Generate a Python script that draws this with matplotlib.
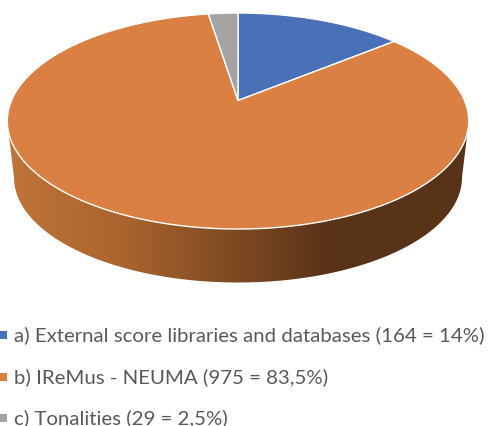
#!/usr/bin/env python3
"""Perspective 3D pie of score sources, with a legend below."""

import matplotlib

matplotlib.use("Agg")
import matplotlib.pyplot as plt
import numpy as np
from matplotlib.colors import LinearSegmentedColormap
from matplotlib.patches import Polygon

VALUES = [164, 975, 29]
LABELS = [
    "a) External score libraries and databases (164 = 14%)",
    "b) IReMus - NEUMA (975 = 83,5%)",
    "c) Tonalities (29 = 2,5%)",
]
COLORS = ["#4A71B8", "#DA8043", "#A3A3A3"]

# Pie placement in pixels, fitted from the reference.
APEX_X, APEX_Y = 238.0, 100.5
SCALE_X, SCALE_Y, PERSP = 226.5, 104.1, 0.19


def project(theta):
    """Map a clockwise-from-top pie angle to image pixels with perspective."""
    x, y = np.sin(theta), np.cos(theta)
    w = 1 + PERSP * y
    return APEX_X + SCALE_X * x / w, APEX_Y - SCALE_Y * y / w


fig = plt.figure(figsize=(4.88, 4.26), dpi=100)
ax = fig.add_axes([0, 0, 1, 1])

# Side wall: front half of the top rim joined to a lower, slightly narrower rim.
t = np.linspace(0, 2 * np.pi, 721)
rim_x, rim_y = project(t)
upper = np.column_stack([rim_x, rim_y])
upper = upper[upper[:, 1] > 122]
upper = upper[np.argsort(-upper[:, 0])]

low_t = np.linspace(0, np.pi, 361)
lower = np.column_stack([APEX_X + 224 * np.cos(low_t + np.pi), 177.5 + 105 * np.sin(low_t)])

wall_patch = Polygon(np.vstack([upper, lower]), closed=True, facecolor="none", edgecolor="none")
ax.add_patch(wall_patch)
cmap = LinearSegmentedColormap.from_list(
    "wall",
    [(0, "#C07539"), (0.25, "#A9642F"), (0.70, "#5A3318"), (1, "#583318")],
)
grad = ax.imshow(
    np.linspace(0, 1, 256)[None, :],
    extent=(8, 468, 290, 110),
    cmap=cmap,
    aspect="auto",
    zorder=1,
)
grad.set_clip_path(wall_patch)

# Top surface, one wedge per value.
edges = np.cumsum([0] + VALUES) / sum(VALUES) * 2 * np.pi
for start, end, color in zip(edges[:-1], edges[1:], COLORS):
    arc = np.linspace(start, end, 240)
    xs, ys = project(arc)
    pts = np.vstack([[APEX_X, APEX_Y], np.column_stack([xs, ys])])
    ax.add_patch(
        Polygon(pts, closed=True, facecolor=color, edgecolor="white", linewidth=1.0, zorder=2)
    )

# Legend.
for y, label, color in zip([335, 376.5, 418], LABELS, COLORS):
    ax.scatter([3], [y], marker="s", s=30, color=color, linewidths=0, zorder=3, clip_on=False)
    ax.text(14, y + 6.5, label, fontsize=14.7, family="Lato", color="#595959", va="baseline", ha="left")

ax.set_xlim(0, 488)
ax.set_ylim(426, 0)
ax.axis("off")

fig.savefig("out.png", dpi=100)
